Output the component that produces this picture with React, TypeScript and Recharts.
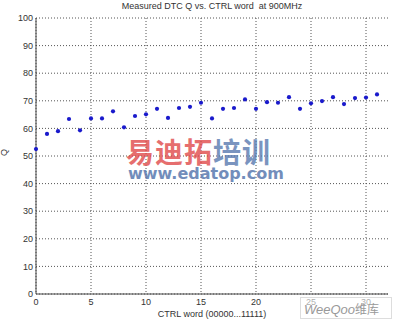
import { CartesianGrid, Scatter, ScatterChart, XAxis, YAxis } from "recharts";

const ctrlWord = [
  0, 1, 2, 3, 4, 5, 6, 7, 8, 9, 10, 11, 12, 13, 14, 15,
  16, 17, 18, 19, 20, 21, 22, 23, 24, 25, 26, 27, 28, 29, 30, 31,
];
const qValues = [
  52.5, 58, 59, 63.4, 59.3, 63.6, 63.6, 66.2, 60.4, 64.5, 65.1, 67.1, 63.8, 67.4, 67.8, 69.3,
  63.6, 67.1, 67.4, 70.5, 67.1, 69.5, 69.3, 71.3, 67.1, 69.1, 69.9, 71.3, 68.8, 71, 71.2, 72.3,
];
const xTicks = [0, 5, 10, 15, 20, 25, 30];
const yTicks = [0, 10, 20, 30, 40, 50, 60, 70, 80, 90, 100];

const FONT = "'Liberation Sans', Arial, sans-serif";

export default function App() {
  const points = ctrlWord.map((x, i) => ({ x, q: qValues[i] }));
  const tick = { fill: "#333", fontSize: 9, fontFamily: FONT };

  return (
    <div
      style={{
        position: "absolute",
        left: 0,
        top: 0,
        width: 393,
        height: 322,
        background: "#fff",
        fontFamily: FONT,
        overflow: "hidden",
      }}
    >
      <div
        style={{
          position: "absolute",
          top: 1,
          left: 36,
          width: 352,
          textAlign: "center",
          fontSize: 9,
          color: "#333",
        }}
      >
        Measured DTC Q vs. CTRL word&nbsp; at 900MHz
      </div>

      <ScatterChart width={393} height={322} margin={{ top: 18, right: 5, bottom: 0, left: 0 }}>
        <CartesianGrid
          stroke="#555"
          strokeDasharray="1 2"
          verticalValues={xTicks}
          horizontalValues={yTicks}
        />
        <XAxis
          type="number"
          dataKey="x"
          domain={[0, 32]}
          ticks={xTicks}
          tick={tick}
          tickSize={0}
          tickMargin={5}
          height={28}
          stroke="#444"
          label={{
            value: "CTRL word (00000...11111)",
            position: "insideBottom",
            offset: 5,
            fill: "#333",
            fontSize: 9,
            fontFamily: FONT,
          }}
        />
        <YAxis
          type="number"
          dataKey="q"
          domain={[0, 100]}
          ticks={yTicks}
          tick={tick}
          tickSize={0}
          tickMargin={3}
          width={36}
          stroke="#444"
          label={{
            value: "Q",
            angle: -90,
            position: "insideLeft",
            offset: 4,
            fill: "#333",
            fontSize: 9,
            fontFamily: FONT,
          }}
        />
        <Scatter
          data={points}
          fill="#1a1acc"
          isAnimationActive={false}
          shape={(p: any) => <circle cx={p.cx} cy={p.cy} r={2.1} fill="#1a1acc" />}
        />
      </ScatterChart>

      <div
        style={{
          position: "absolute",
          left: 126,
          top: 136,
          fontSize: 28,
          fontWeight: "bold",
          fontFamily: "'Noto Sans CJK SC', sans-serif",
          letterSpacing: 1,
          lineHeight: "30px",
          opacity: 0.8,
          whiteSpace: "nowrap",
        }}
      >
        <span style={{ color: "#e04a4a" }}>易迪拓</span>
        <span style={{ color: "#5a7ab0" }}>培训</span>
      </div>
      <div
        style={{
          position: "absolute",
          left: 128,
          top: 164,
          fontSize: 16,
          fontWeight: "bold",
          color: "#5a7ab0",
          fontFamily: "'DejaVu Sans', sans-serif",
          opacity: 0.85,
          whiteSpace: "nowrap",
        }}
      >
        www.edatop.com
      </div>
      <div
        style={{
          position: "absolute",
          left: 300,
          top: 297,
          width: 92,
          height: 22,
          background: "rgba(255,255,255,0.6)",
          border: "1px solid #ddd",
          fontSize: 13,
          color: "#999",
          fontStyle: "italic",
          lineHeight: "22px",
          paddingLeft: 3,
          boxSizing: "border-box",
          whiteSpace: "nowrap",
        }}
      >
        WeeQoo
        <span style={{ fontStyle: "normal", fontFamily: "'Noto Sans CJK SC'", fontSize: 12 }}>
          维库
        </span>
      </div>
    </div>
  );
}
